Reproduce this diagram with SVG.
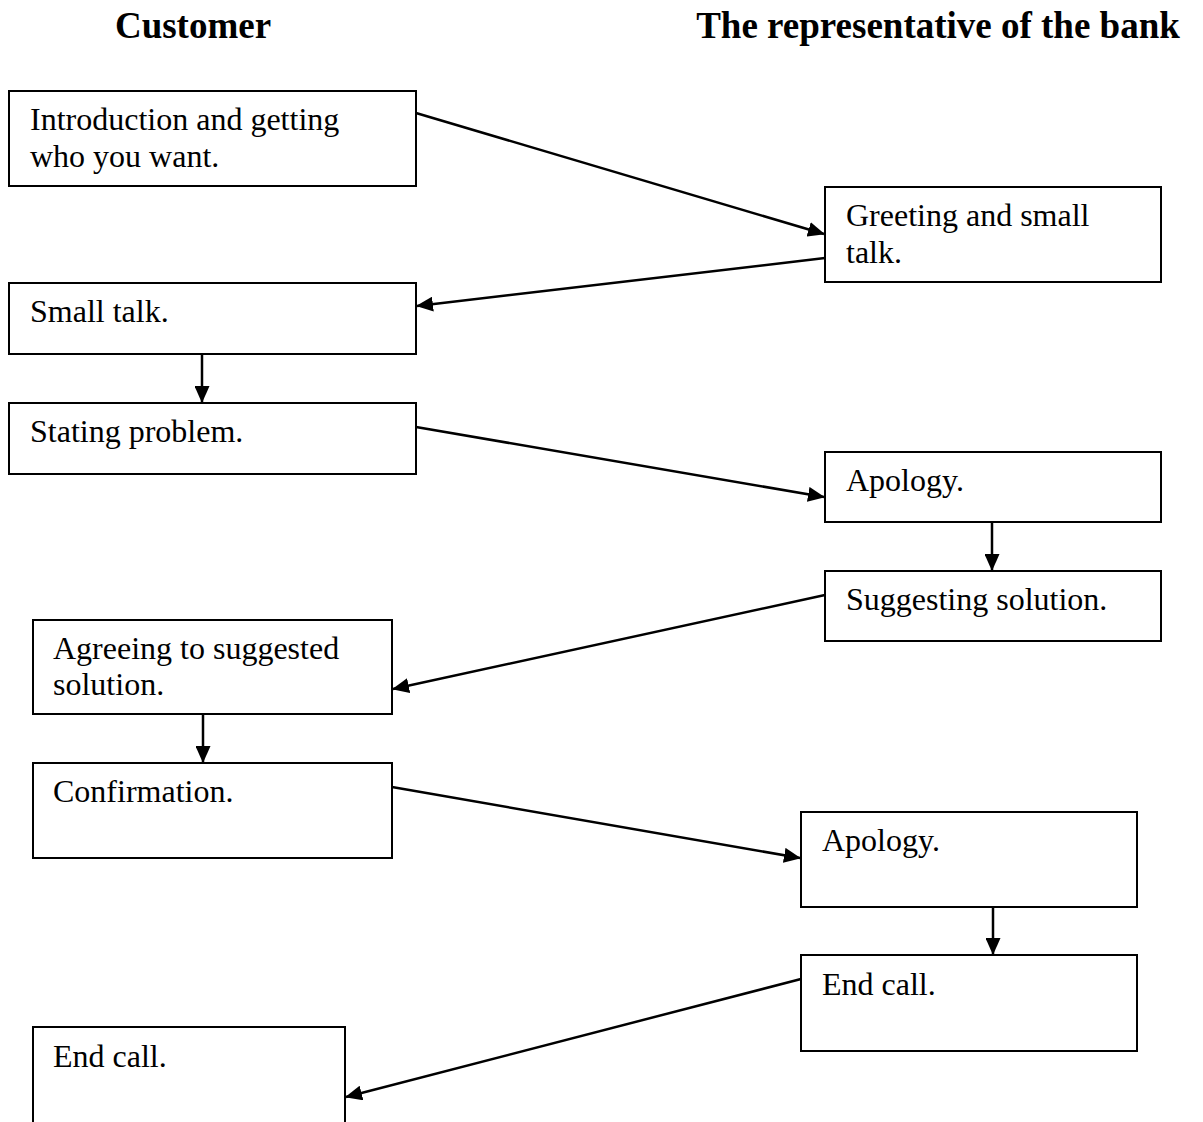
<svg xmlns="http://www.w3.org/2000/svg" width="1203" height="1122" viewBox="0 0 1203 1122">
  <style>
    .box rect { fill: #fff; stroke: #000; stroke-width: 2; }
    .box text { font-family: "Liberation Serif", "Times New Roman", serif; font-size: 32px; fill: #000; }
    .head { font-family: "Liberation Serif", "Times New Roman", serif; font-size: 37px; font-weight: bold; fill: #000; }
    .conn line { stroke: #000; stroke-width: 2.5; marker-end: url(#arrow); }
  </style>
  <defs>
    <marker id="arrow" markerUnits="userSpaceOnUse" viewBox="0 0 17 15" refX="16" refY="7.5" markerWidth="17" markerHeight="15" orient="auto">
      <path d="M0,0 L17,7.5 L0,15 z" fill="#000"/>
    </marker>
  </defs>
  <rect width="1203" height="1122" fill="#fff"/>

  <!-- column headings -->
  <text class="head" x="193" y="38" text-anchor="middle">Customer</text>
  <text class="head" x="938" y="38" text-anchor="middle">The representative of the bank</text>

  <!-- connectors -->
  <g id="connectors" class="conn">
    <line x1="416" y1="113" x2="824" y2="234"/>
    <line x1="825" y1="258" x2="417" y2="306"/>
    <line x1="202" y1="354" x2="202" y2="402"/>
    <line x1="416" y1="427" x2="824" y2="497"/>
    <line x1="992" y1="522" x2="992" y2="570"/>
    <line x1="825" y1="595" x2="393" y2="689"/>
    <line x1="203" y1="714" x2="203" y2="762"/>
    <line x1="392" y1="787" x2="800" y2="858"/>
    <line x1="993" y1="906" x2="993" y2="954"/>
    <line x1="801" y1="979" x2="346" y2="1097"/>
  </g>

  <!-- customer side -->
  <g id="c-intro" class="box">
    <rect x="9" y="91" width="407" height="95"/>
    <text x="30" y="130">Introduction and getting</text>
    <text x="30" y="167">who you want.</text>
  </g>
  <g id="c-smalltalk" class="box">
    <rect x="9" y="283" width="407" height="71"/>
    <text x="30" y="322">Small talk.</text>
  </g>
  <g id="c-problem" class="box">
    <rect x="9" y="403" width="407" height="71"/>
    <text x="30" y="442">Stating problem.</text>
  </g>
  <g id="c-agree" class="box">
    <rect x="33" y="620" width="359" height="94"/>
    <text x="53" y="659">Agreeing to suggested</text>
    <text x="53" y="695">solution.</text>
  </g>
  <g id="c-confirm" class="box">
    <rect x="33" y="763" width="359" height="95"/>
    <text x="53" y="802">Confirmation.</text>
  </g>
  <g id="c-end" class="box">
    <rect x="33" y="1027" width="312" height="120"/>
    <text x="53" y="1067">End call.</text>
  </g>

  <!-- bank side -->
  <g id="b-greeting" class="box">
    <rect x="825" y="187" width="336" height="95"/>
    <text x="846" y="226">Greeting and small</text>
    <text x="846" y="263">talk.</text>
  </g>
  <g id="b-apology1" class="box">
    <rect x="825" y="452" width="336" height="70"/>
    <text x="846" y="491">Apology.</text>
  </g>
  <g id="b-suggest" class="box">
    <rect x="825" y="571" width="336" height="70"/>
    <text x="846" y="610">Suggesting solution.</text>
  </g>
  <g id="b-apology2" class="box">
    <rect x="801" y="812" width="336" height="95"/>
    <text x="822" y="851">Apology.</text>
  </g>
  <g id="b-end" class="box">
    <rect x="801" y="955" width="336" height="96"/>
    <text x="822" y="995">End call.</text>
  </g>
</svg>
